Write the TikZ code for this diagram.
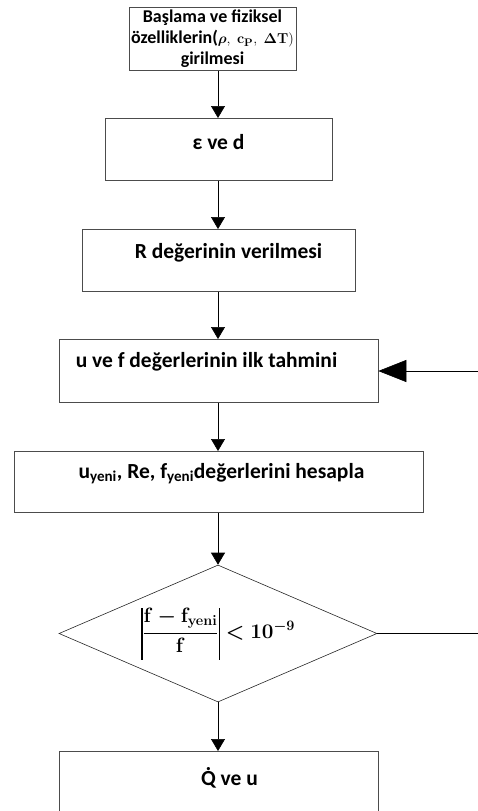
\documentclass[tikz,border=0pt]{standalone}
\usepackage{amsmath}
\usepackage{bm}
\usepackage[no-math]{fontspec}
\setmainfont{Carlito}
\usetikzlibrary{shapes.geometric,arrows.meta}
\newcommand{\Qdot}{\ooalign{Q\cr\hidewidth\raisebox{0.68em}{.}\hidewidth\cr}}
\newcommand{\absbar}{\vcenter{\hbox{\vrule width 1.6pt height 52pt}}}
\begin{document}
\begin{tikzpicture}[
   x=1pt,y=-1pt,
   font=\bfseries\fontsize{21.5}{24}\selectfont,
   stepbox/.style={draw=black!70,semithick,rectangle,anchor=north,inner xsep=0pt,inner ysep=0pt},
   startbox/.style={stepbox,align=center,font=\bfseries\fontsize{18}{21}\selectfont},
   checkbox/.style={draw=black!85,semithick,diamond,aspect=2.32,inner sep=0pt,minimum width=318pt,minimum height=137pt,font=\fontsize{20}{24}\selectfont},
   flow/.style={-{Triangle[width=14pt,length=12pt]},semithick},
   back/.style={-{Triangle[width=22pt,length=28pt]},semithick}]
\path[use as bounding box] (0,0) rectangle (478,811);
\node[startbox,minimum width=167pt,minimum height=63pt] (start) at (212.5,7)
   {Başlama ve fiziksel\\özelliklerin({\fontsize{15}{21}\selectfont$\bm{\rho},\;\mathbf{c}_{\mathbf{P}},\;\bm{\Delta}\mathbf{T})$}\\girilmesi};
\node[stepbox,minimum width=227pt,text height=31pt,text depth=31pt] (eps) at (218.5,118) {ε ve d};
\node[stepbox,minimum width=273pt,text height=29pt,text depth=33pt] (rval) at (218.5,229) {\hspace*{20pt}R değerinin verilmesi};
\node[stepbox,minimum width=319pt,text height=28pt,text depth=35pt] (guess) at (218.5,339) {u ve f değerlerinin ilk tahmini\hspace*{24pt}};
\node[stepbox,minimum width=409pt,text height=27pt,text depth=34pt] (calc) at (218.5,451) {\hspace*{6pt}u\textsubscript{yeni}, Re, f\textsubscript{yeni}değerlerini hesapla};
\node[checkbox] (test) at (218,633.5) {$\displaystyle\absbar\genfrac{}{}{1.4pt}{0}{\mathbf{f}\bm{-}\mathbf{f}_{\mathbf{yeni}}}{\mathbf{f}}\absbar\bm{<}\mathbf{10}^{\bm{-}\mathbf{9}}$};
\node[stepbox,minimum width=319pt,text height=34pt,text depth=35pt] (result) at (218.5,751) {\hspace*{22pt}\Qdot{} ve u};
\coordinate (loopin) at (478,371);
\coordinate (loopout) at (478,633.5);
\draw[flow] (start.south -| test) -- (eps.north -| test);
\draw[flow] (eps.south -| test) -- (rval.north -| test);
\draw[flow] (rval.south -| test) -- (guess.north -| test);
\draw[flow] (guess.south -| test) -- (calc.north -| test);
\draw[flow] (calc.south -| test) -- (test.north);
\draw[flow] (test.south) -- (result.north -| test);
\draw[back] (loopin) -- (loopin -| guess.east);
\draw[semithick] (test.east) -- (loopout);
\end{tikzpicture}
\end{document}
